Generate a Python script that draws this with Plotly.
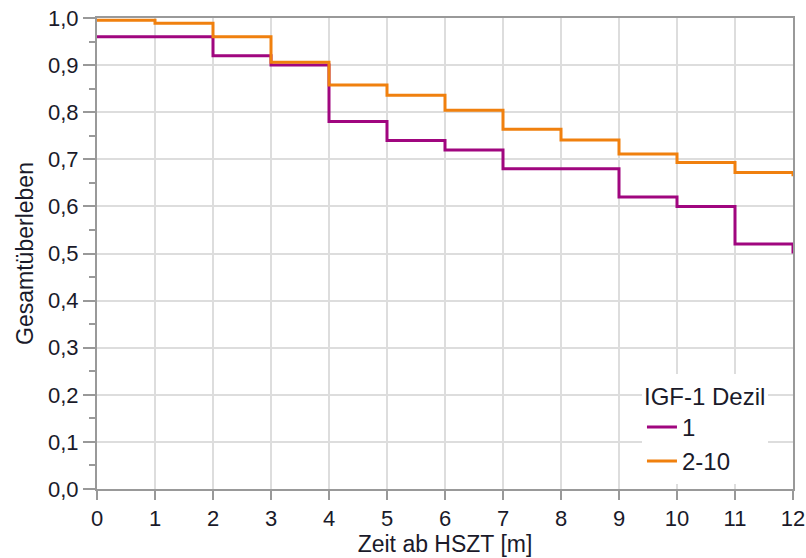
import plotly.graph_objects as go

# Data (Kaplan-Meier style step values)
months = [0, 1, 2, 3, 4, 5, 6, 7, 8, 9, 10, 11, 12]
surv_dezil1 = [0.96, 0.96, 0.92, 0.90, 0.78, 0.74, 0.72, 0.68, 0.68, 0.62, 0.60, 0.52, 0.50]
surv_dezil2_10 = [0.995, 0.989, 0.96, 0.906, 0.858, 0.836, 0.804, 0.764, 0.741, 0.711, 0.693, 0.672, 0.664]
series_names = ["1", "2-10"]
series_colors = ["#A0067F", "#F0800E"]
y_ticks = [i / 10 for i in range(11)]
x_ticks = list(range(13))

fig = go.Figure()
for name, ys, col in zip(series_names, [surv_dezil1, surv_dezil2_10], series_colors):
    fig.add_trace(go.Scatter(
        x=months, y=ys, mode="lines", name=name,
        line=dict(color=col, width=3, shape="hv"),
    ))

FONT = "Liberation Sans, Arial, sans-serif"
TXT = "#1a1a2a"
tick_font = dict(family=FONT, size=22, color=TXT)
title_font = dict(family=FONT, size=23, color=TXT)

fig.update_layout(
    width=806, height=558,
    margin=dict(l=97, r=13, t=18, b=69),
    paper_bgcolor="white", plot_bgcolor="white",
    separators=", ",
    font=dict(family=FONT, size=22, color=TXT),
    showlegend=True,
    legend=dict(
        title=dict(text="IGF-1 Dezil", font=dict(family=FONT, size=24, color=TXT)),
        x=0.783, xanchor="left", y=0.245, yanchor="top",
        bgcolor="white", borderwidth=0,
        font=dict(family=FONT, size=24, color=TXT),
        tracegroupgap=0,
    ),
    xaxis=dict(
        range=[0, 12], tickvals=x_ticks, ticks="outside", ticklen=9, tickwidth=2,
        tickcolor="#999999",
        showline=True, linecolor="#999999", linewidth=2, mirror=True,
        showgrid=True, gridcolor="#dddddd", gridwidth=2,
        zeroline=False, automargin=False,
        title=dict(text="Zeit ab HSZT [m]", standoff=4, font=title_font),
        tickfont=tick_font,
    ),
    yaxis=dict(
        range=[0, 1.0], tickvals=y_ticks, tickformat=".1f",
        ticks="outside", ticklen=12, tickwidth=2, tickcolor="#999999",
        minor=dict(dtick=0.05, ticklen=6, tickwidth=2, tickcolor="#999999", showgrid=False, ticks="outside"),
        showline=True, linecolor="#999999", linewidth=2, mirror=True,
        showgrid=True, gridcolor="#dddddd", gridwidth=2,
        zeroline=False, automargin=False,
        title=dict(text="Gesamtüberleben", standoff=8, font=title_font),
        tickfont=tick_font,
    ),
)

fig.write_html("out.html")
